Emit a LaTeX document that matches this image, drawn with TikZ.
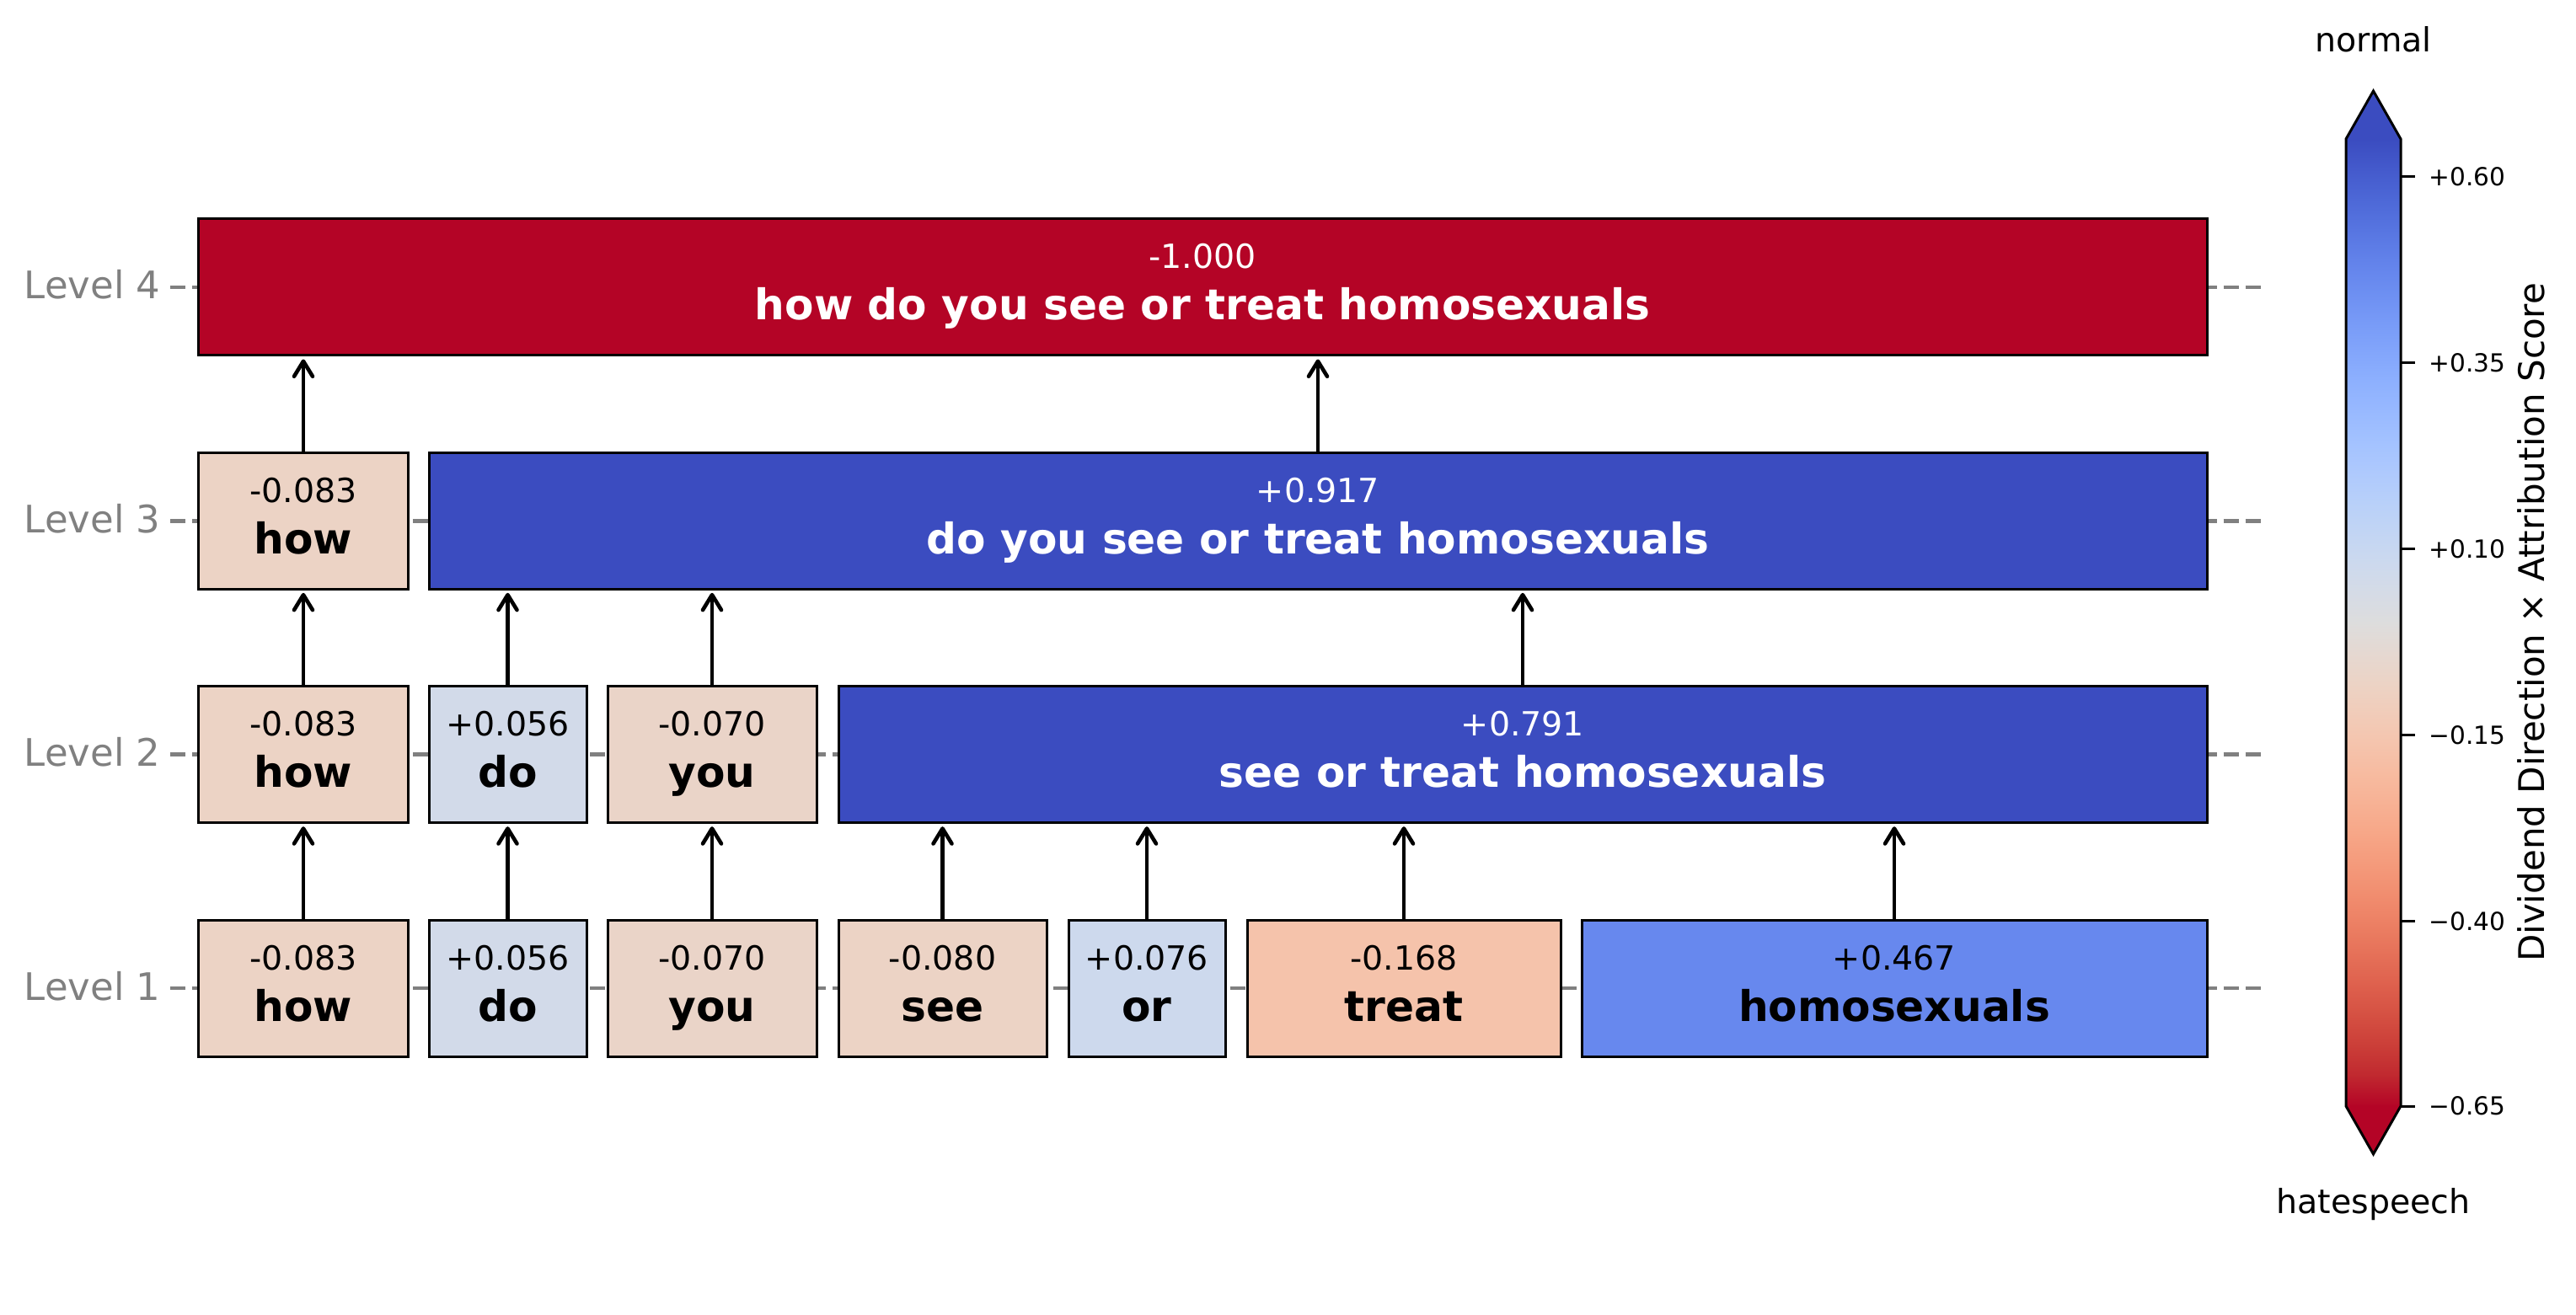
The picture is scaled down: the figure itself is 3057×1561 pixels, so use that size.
\documentclass[tikz,border=0pt]{standalone}
\usepackage{fontspec}
\setmainfont{DejaVu Sans}
\usetikzlibrary{arrows.meta}
% coolwarm (Moreland) table, 33 entries
\definecolor{cw0}{RGB}{59,76,192}
\definecolor{cw1}{RGB}{68,90,204}
\definecolor{cw2}{RGB}{77,104,215}
\definecolor{cw3}{RGB}{87,117,225}
\definecolor{cw4}{RGB}{98,130,234}
\definecolor{cw5}{RGB}{108,142,241}
\definecolor{cw6}{RGB}{119,154,247}
\definecolor{cw7}{RGB}{130,165,251}
\definecolor{cw8}{RGB}{141,176,254}
\definecolor{cw9}{RGB}{152,185,255}
\definecolor{cw10}{RGB}{163,194,255}
\definecolor{cw11}{RGB}{174,201,253}
\definecolor{cw12}{RGB}{184,208,249}
\definecolor{cw13}{RGB}{194,213,244}
\definecolor{cw14}{RGB}{204,217,238}
\definecolor{cw15}{RGB}{213,219,230}
\definecolor{cw16}{RGB}{221,221,221}
\definecolor{cw17}{RGB}{229,216,209}
\definecolor{cw18}{RGB}{236,211,197}
\definecolor{cw19}{RGB}{241,204,185}
\definecolor{cw20}{RGB}{245,196,173}
\definecolor{cw21}{RGB}{247,187,160}
\definecolor{cw22}{RGB}{247,177,148}
\definecolor{cw23}{RGB}{247,166,135}
\definecolor{cw24}{RGB}{244,154,123}
\definecolor{cw25}{RGB}{241,141,111}
\definecolor{cw26}{RGB}{236,127,99}
\definecolor{cw27}{RGB}{229,112,88}
\definecolor{cw28}{RGB}{222,96,77}
\definecolor{cw29}{RGB}{213,80,66}
\definecolor{cw30}{RGB}{203,62,56}
\definecolor{cw31}{RGB}{192,40,47}
\definecolor{cw32}{RGB}{180,4,38}
% box colours
\definecolor{cHow}{RGB}{236,211,197}
\definecolor{cSee}{RGB}{236,211,197}
\definecolor{cYou}{RGB}{234,212,200}
\definecolor{cDo}{RGB}{210,218,233}
\definecolor{cOr}{RGB}{205,217,237}
\definecolor{cTreat}{RGB}{245,195,171}
\definecolor{cHomo}{RGB}{103,136,238}
\definecolor{cBlue}{RGB}{59,76,192}
\definecolor{cRed}{RGB}{180,4,38}
\definecolor{lvlgray}{RGB}{128,128,128}
\definecolor{dashgray}{RGB}{128,128,128}

\tikzset{
  tokbox/.style={draw=black, line width=1.5pt, rectangle, inner sep=0pt, outer sep=0pt, minimum height=81pt},
  valtext/.style={anchor=base, inner sep=0pt, font=\fontsize{19.75pt}{23pt}\selectfont},
  wordtext/.style={anchor=base, inner sep=0pt, font=\fontsize{25.1pt}{29pt}\selectfont\bfseries},
  lvltext/.style={anchor=base east, inner sep=0pt, text=lvlgray, font=\fontsize{22.5pt}{27pt}\selectfont},
  lvlline/.style={draw=dashgray, line width=2.4pt, dash pattern=on 9.15pt off 3.95pt},
  arr/.style={draw=black, line width=2.3pt, -{Straight Barb[length=9pt,width=11pt,round]}, shorten >=2.25pt},
  ticklab/.style={anchor=base west, inner sep=0pt, font=\fontsize{14.8pt}{18pt}\selectfont},
  cbtext/.style={anchor=base, inner sep=0pt, font=\fontsize{19.75pt}{23pt}\selectfont},
}

% #1 name, #2 x1, #3 x2, #4 y centre, #5 fill, #6 text colour, #7 value, #8 word
\newcommand\tokbox[8]{%
  \node[tokbox, fill=#5, minimum width={(#3-#2)*0.5pt}] (#1) at ({(#2+#3)/2},#4) {};
  \node[valtext, text=#6] (#1v) at ([yshift=11pt]#1.center) {#7};
  \node[wordtext, text=#6] (#1w) at ([yshift=-19.5pt]#1.center) {#8};
}

\begin{document}
\begin{tikzpicture}[x=0.5pt, y=-0.5pt]
\useasboundingbox (0,0) rectangle (3057,1561);

% level guide lines and labels
\foreach \yc/\lv in {341/4, 618.3/3, 895.7/2, 1173/1} {
  \draw[lvlline] (202,\yc) -- (2686,\yc);
  \node[lvltext] (lvl\lv) at (191,\yc+14) {Level \lv};
}

% Level 1
\tokbox{how1}{235.5}{484.5}{1173}{cHow}{black}{-0.083}{how}
\tokbox{do1}{509}{696}{1173}{cDo}{black}{+0.056}{do}
\tokbox{you1}{721}{969}{1173}{cYou}{black}{-0.070}{you}
\tokbox{see1}{995}{1242}{1173}{cSee}{black}{-0.080}{see}
\tokbox{or1}{1268}{1454}{1173}{cOr}{black}{+0.076}{or}
\tokbox{treat1}{1480}{1852}{1173}{cTreat}{black}{-0.168}{treat}
\tokbox{homo1}{1877}{2619}{1173}{cHomo}{black}{+0.467}{homosexuals}
% Level 2
\tokbox{how2}{235.5}{484.5}{895.7}{cHow}{black}{-0.083}{how}
\tokbox{do2}{509}{696}{895.7}{cDo}{black}{+0.056}{do}
\tokbox{you2}{721}{969}{895.7}{cYou}{black}{-0.070}{you}
\tokbox{big2}{995}{2619}{895.7}{cBlue}{white}{+0.791}{see or treat homosexuals}
% Level 3
\tokbox{how3}{235.5}{484.5}{618.3}{cHow}{black}{-0.083}{how}
\tokbox{big3}{509}{2619}{618.3}{cBlue}{white}{+0.917}{do you see or treat homosexuals}
% Level 4
\tokbox{top4}{235.5}{2619}{341}{cRed}{white}{-1.000}{how do you see or treat homosexuals}

% arrows
\foreach \a/\b in {how1/how2, do1/do2, you1/you2, see1/big2, or1/big2, treat1/big2, homo1/big2,
                   how2/how3, do2/big3, you2/big3, big2/big3,
                   how3/top4, big3/top4} {
  \draw[arr] (\a.north) -- (\a.north |- \b.south);
}

% colour bar
\foreach \i in {0,...,31} {
  \pgfmathtruncatemacro{\j}{\i+1}
  \shade[top color=cw\i, bottom color=cw\j] (2784,{165+\i*35.875}) rectangle (2849,{165+(\i+1)*35.875+0.6});
}
\fill[cw0] (2784,165.5) -- (2816.5,108) -- (2849,165.5) -- cycle;
\fill[cw32] (2784,1312.5) -- (2816.5,1370) -- (2849,1312.5) -- cycle;
\draw[line width=1.5pt, line join=miter] (2784,165) -- (2816.5,108) -- (2849,165) -- (2849,1313) -- (2816.5,1370) -- (2784,1313) -- cycle;

\foreach \ty/\tl [count=\k] in {210/{+0.60}, 430.8/{+0.35}, 651.6/{+0.10}, 872.4/{−0.15}, 1093.2/{−0.40}, 1313/{−0.65}} {
  \draw[line width=1.5pt] (2849,\ty) -- (2866,\ty);
  \node[ticklab] (tick\k) at (2882,\ty+10.8) {\tl};
}

\node[cbtext] (normal) at (2816.5,62) {normal};
\node[cbtext] (hate) at (2816.5,1440) {hatespeech};
\node[cbtext, rotate=90, font=\fontsize{21pt}{25pt}\selectfont] (cblabel) at (3019,739) {Dividend Direction × Attribution Score};

\end{tikzpicture}
\end{document}
